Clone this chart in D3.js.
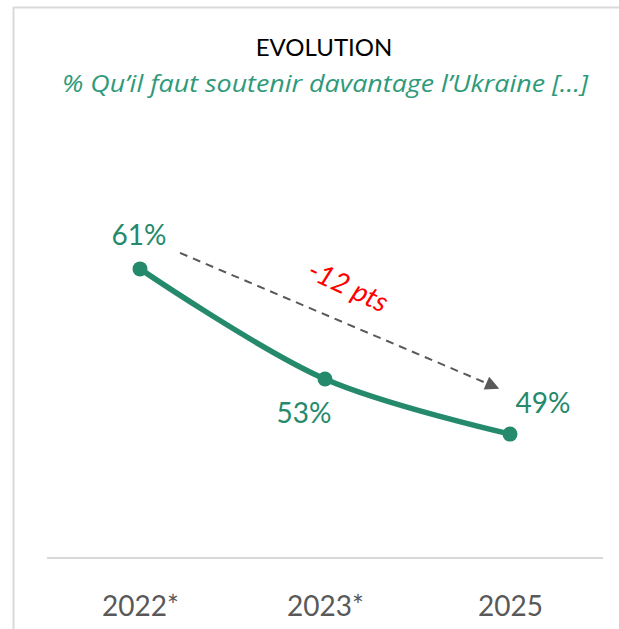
<!DOCTYPE html>
<html>
<head>
<meta charset="utf-8">
<script src="https://cdn.jsdelivr.net/npm/d3@7"></script>
<style>
  body { margin: 0; background: #fff; }
  svg { display: block; font-family: Lato, "Open Sans", sans-serif; }
</style>
</head>
<body>
<svg id="chart" width="619" height="629"></svg>
<script>
// data
const years = ["2022*", "2023*", "2025"];
const values = [61, 53, 49];
const changeLabel = "-12 pts";

const title = "EVOLUTION";
const subtitle = "% Qu\u2019il faut soutenir davantage l\u2019Ukraine [\u2026]";

const green = "#258a6c";
const svg = d3.select("#chart");

// frame (only top + left edges show in the crop)
svg.append("line").attr("x1", 13.5).attr("x2", 619).attr("y1", 7.5).attr("y2", 7.5)
    .attr("stroke", "#d9d9d9").attr("stroke-width", 2);
svg.append("line").attr("x1", 13.5).attr("x2", 13.5).attr("y1", 7).attr("y2", 629)
    .attr("stroke", "#d9d9d9").attr("stroke-width", 2);

svg.append("text").attr("x", 324).attr("y", 56).attr("text-anchor", "middle")
    .attr("font-size", 24).attr("fill", "#000").text(title);
svg.append("text").attr("x", 62).attr("y", 92)
    .attr("font-family", "'Open Sans', sans-serif")
    .attr("font-size", 23).attr("font-style", "italic")
    .attr("textLength", 526).attr("lengthAdjust", "spacingAndGlyphs")
    .attr("fill", "#2e9a7a").text(subtitle);

// scales
const x = d3.scalePoint().domain(years).range([140, 510]);
const y = d3.scaleLinear().domain([40, 70]).range([558, 145]);

// x axis: just a baseline and labels
const xAxis = svg.append("g").attr("transform", "translate(0,558)")
    .call(d3.axisBottom(x).tickSize(0).tickPadding(38));
xAxis.select(".domain").remove();
xAxis.append("line").attr("x1", 47).attr("x2", 603).attr("stroke", "#d9d9d9").attr("stroke-width", 2);
xAxis.selectAll(".tick text").attr("font-size", 28).attr("fill", "#595959")
    .attr("font-family", "Lato, 'Open Sans', sans-serif");

const pts = years.map((d, i) => [x(d), y(values[i])]);

// smoothed line like Excel
svg.append("path")
    .attr("d", d3.line().curve(d3.curveCatmullRom.alpha(0.5))(pts))
    .attr("fill", "none").attr("stroke", green).attr("stroke-width", 5.5)
    .attr("stroke-linecap", "round");

svg.append("g").selectAll("circle").data(pts).join("circle")
    .attr("cx", d => d[0]).attr("cy", d => d[1]).attr("r", 7.5).attr("fill", green);

// value labels (offsets as in the original)
const labelOffsets = [[-1, -24], [-21, 44], [33, -21]];
svg.append("g").selectAll("text").data(values).join("text")
    .attr("x", (d, i) => pts[i][0] + labelOffsets[i][0])
    .attr("y", (d, i) => pts[i][1] + labelOffsets[i][1])
    .attr("text-anchor", "middle").attr("font-size", 28).attr("fill", green)
    .text(d => d + "%");

// dashed arrow showing the change
svg.append("defs").append("marker").attr("id", "head")
    .attr("viewBox", "0 0 10 10").attr("refX", 9).attr("refY", 5)
    .attr("markerWidth", 8).attr("markerHeight", 7).attr("orient", "auto")
    .attr("markerUnits", "strokeWidth")
    .append("path").attr("d", "M0,0L10,5L0,10Z").attr("fill", "#595959");

const a0 = [pts[0][0] + 40, pts[0][1] - 16];
const a1 = [pts[2][0] - 12, pts[2][1] - 46];
svg.append("line").attr("x1", a0[0]).attr("y1", a0[1]).attr("x2", a1[0]).attr("y2", a1[1])
    .attr("stroke", "#595959").attr("stroke-width", 2).attr("stroke-dasharray", "8,6")
    .attr("marker-end", "url(#head)");

svg.append("text").attr("transform", "translate(344,295) rotate(25)")
    .attr("text-anchor", "middle").attr("font-size", 28).attr("font-style", "italic")
    .attr("fill", "#ff0000").text(changeLabel);
</script>
</body>
</html>
